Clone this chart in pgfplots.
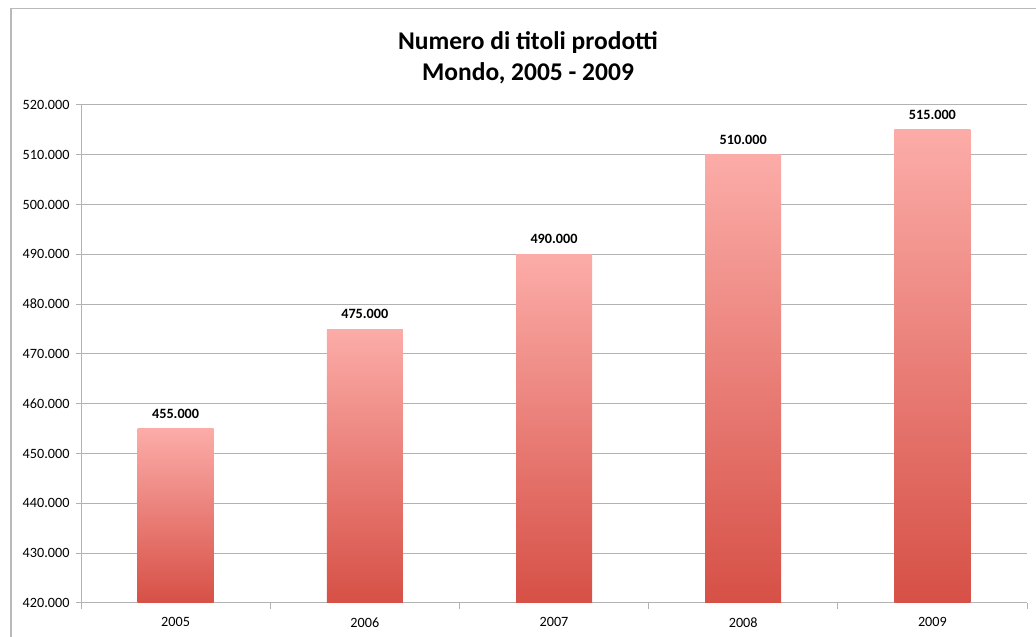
\documentclass[border=0pt]{standalone}
\usepackage{fontspec}
\setmainfont{Carlito}
\usepackage{pgfplots}
\pgfplotsset{compat=1.18}
\definecolor{gridc}{RGB}{178,178,178}
\definecolor{framec}{RGB}{185,185,185}
\definecolor{bartop}{RGB}{252,172,168}
\definecolor{barbot}{RGB}{214,80,70}
\begin{document}
\begin{tikzpicture}[x=1pt,y=1pt]
\useasboundingbox (0,0) rectangle (1036,637);
\draw[framec, line width=1.3pt] (11,-5) -- (11,628.5) -- (1045,628.5);
\node[font=\fontsize{25.5}{30}\selectfont\bfseries] at (528,594) {Numero di titoli prodotti};
\node[font=\fontsize{25.5}{30}\selectfont\bfseries] at (528,564) {Mondo, 2005 - 2009};
\begin{axis}[
  at={(81pt,34pt)}, anchor=south west, scale only axis,
  width=946pt, height=498pt,
  xmin=-0.5, xmax=4.5, ymin=0, ymax=100000,
  axis x line*=bottom, axis y line*=left,
  axis line style={gridc, line width=1pt, -},
  xtick={0,1,2,3,4}, xticklabels={2005,2006,2007,2008,2009},
  minor xtick={-0.5,0.5,1.5,2.5,3.5,4.5},
  major x tick style={draw=none},
  minor x tick style={gridc, line width=1pt},
  minor tick length=6pt,
  ytick={0,10000,20000,30000,40000,50000,60000,70000,80000,90000,100000},
  yticklabels={420.000,430.000,440.000,450.000,460.000,470.000,480.000,490.000,500.000,510.000,520.000},
  major tick length=5pt,
  tick align=outside,
  y tick style={gridc, line width=1pt},
  ymajorgrids, grid style={gridc, line width=1pt},
  ticklabel style={font=\fontsize{14.2}{16}\selectfont, text=black},
  xticklabel style={yshift=-6pt},
  yticklabel style={xshift=-3pt},
  scaled y ticks=false,
  clip=false,
  mybar/.style={ybar, bar width=76pt, bar shift=0pt, draw=none, mark=none, top color=bartop, bottom color=barbot},
  nodes near coords={\pgfmathprintnumber[fixed,1000 sep={.},assume math mode=true]{\pgfplotspointmeta}},
  nodes near coords style={font=\fontsize{14.2}{16}\selectfont\bfseries, anchor=south, yshift=7pt, text=black},
  point meta=explicit,
]
% y = height above the 420.000 baseline of the axis; meta holds the real value
\addplot[mybar] coordinates {(0,35000) [455000]};
\addplot[mybar] coordinates {(1,55000) [475000]};
\addplot[mybar] coordinates {(2,70000) [490000]};
\addplot[mybar] coordinates {(3,90000) [510000]};
\addplot[mybar] coordinates {(4,95000) [515000]};
\end{axis}
\end{tikzpicture}
\end{document}
